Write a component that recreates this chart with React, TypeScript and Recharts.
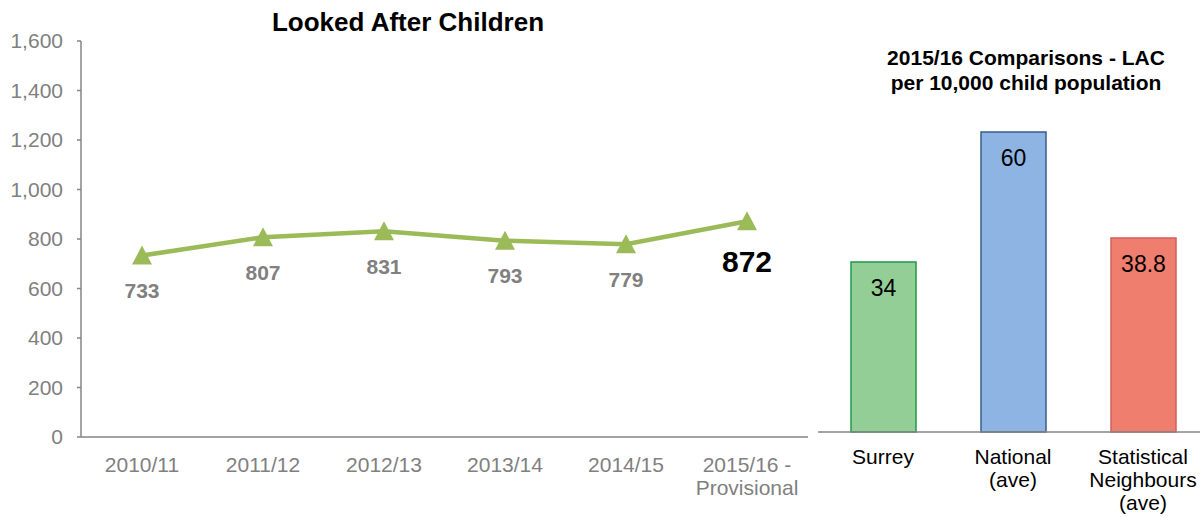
import React from "react";
import { LineChart, Line, BarChart, Bar, Cell, XAxis, YAxis, LabelList } from "recharts";

const years = ["2010/11", "2011/12", "2012/13", "2013/14", "2014/15", "2015/16 - Provisional"];
const lacCounts = [733, 807, 831, 793, 779, 872];
const countTicks = [0, 200, 400, 600, 800, 1000, 1200, 1400, 1600];

const groups = ["Surrey", "National (ave)", "Statistical Neighbours (ave)"];
const ratesPer10k = [34, 60, 38.8];

const FONT = "'Liberation Sans', Arial, sans-serif";
const GREY = "#808080";
const AXIS = "#868686";
const LINE_GREEN = "#9BBB59";
const barFills = ["#92CE96", "#8EB4E3", "#F07E6E"];
const barStrokes = ["#1E9B4A", "#385D8A", "#D0605A"];

const lineData = years.map((year, i) => ({ year, count: lacCounts[i] }));
const barData = groups.map((group, i) => ({ group, rate: ratesPer10k[i] }));

// greedy word wrap, good enough for the short category names here
function wrap(label: string, maxChars = 10): string[] {
  const lines: string[] = [];
  let cur = "";
  for (const w of label.split(" ")) {
    const next = cur ? cur + " " + w : w;
    if (cur && next.length > maxChars) {
      lines.push(cur);
      cur = w;
    } else {
      cur = next;
    }
  }
  if (cur) lines.push(cur);
  return lines;
}

function makeTick(color: string, firstDy: number) {
  return (props: any) => {
    const { x, y, payload } = props;
    const lines = wrap(String(payload.value));
    return (
      <text x={x} y={y} textAnchor="middle" fill={color} fontSize={21} fontFamily={FONT}>
        {lines.map((l, i) => (
          <tspan key={i} x={x} dy={i === 0 ? firstDy : 23}>{l}</tspan>
        ))}
      </text>
    );
  };
}

function Triangle(props: any) {
  const { cx, cy } = props;
  if (cx == null || cy == null) return null;
  return <polygon points={`${cx},${cy - 10} ${cx - 10},${cy + 9} ${cx + 10},${cy + 9}`} fill={LINE_GREEN} />;
}

function PointLabel(props: any) {
  const { x, y, value, index } = props;
  const last = index === lacCounts.length - 1;
  return (
    <text
      x={x}
      y={last ? y + 40 : y + 35}
      textAnchor="middle"
      dominantBaseline="central"
      fontFamily={FONT}
      fontWeight="bold"
      fontSize={last ? 30 : 21}
      fill={last ? "#000" : GREY}
    >
      {value}
    </text>
  );
}

function BarValue(props: any) {
  const { x, y, width, value } = props;
  return (
    <text x={x + width / 2} y={y + 26} textAnchor="middle" dominantBaseline="central" fontFamily={FONT} fontSize={23} fill="#000">
      {value}
    </text>
  );
}

export default function App() {
  return (
    <div style={{ position: "absolute", left: 0, top: 0, width: 1200, height: 517, overflow: "hidden", background: "#fff", fontFamily: FONT }}>
      <div style={{ position: "absolute", left: 208, top: 7, width: 400, textAlign: "center", fontSize: 26, fontWeight: "bold", color: "#000" }}>
        Looked After Children
      </div>
      <div style={{ position: "absolute", left: 826, top: 45, width: 400, textAlign: "center", fontSize: 21, fontWeight: "bold", lineHeight: "25px", color: "#000" }}>
        2015/16 Comparisons - LAC
        <br />
        per 10,000 child population
      </div>

      <div style={{ position: "absolute", left: 0, top: 0 }}>
        <LineChart width={820} height={517} data={lineData} margin={{ top: 41, right: 12, bottom: 0, left: 0 }}>
          <XAxis
            dataKey="year"
            height={80}
            padding={{ left: 61, right: 61 }}
            tickLine={false}
            tickSize={0}
            tickMargin={0}
            axisLine={{ stroke: AXIS, strokeWidth: 1.5 }}
            tick={makeTick(GREY, 35)}
            interval={0}
          />
          <YAxis
            width={81}
            domain={[0, 1600]}
            ticks={countTicks}
            tickFormatter={(v: number) => v.toLocaleString("en-GB")}
            tickSize={4}
            tickMargin={14}
            axisLine={{ stroke: AXIS, strokeWidth: 1.5 }}
            tickLine={{ stroke: AXIS, strokeWidth: 1.5 }}
            tick={{ fill: GREY, fontSize: 21, fontFamily: FONT }}
          />
          <Line
            type="linear"
            dataKey="count"
            stroke={LINE_GREEN}
            strokeWidth={4.5}
            dot={<Triangle />}
            activeDot={false}
            isAnimationActive={false}
          >
            <LabelList dataKey="count" content={<PointLabel />} />
          </Line>
        </LineChart>
      </div>

      <div style={{ position: "absolute", left: 818, top: 0 }}>
        <BarChart width={390} height={517} data={barData} margin={{ top: 82, right: 0, bottom: 0, left: 0 }}>
          <XAxis
            dataKey="group"
            height={85}
            tickLine={false}
            tickSize={0}
            tickMargin={0}
            axisLine={{ stroke: AXIS, strokeWidth: 1.5 }}
            tick={makeTick("#000", 32)}
            interval={0}
          />
          <YAxis hide domain={[0, 70]} />
          <Bar dataKey="rate" barSize={65} strokeWidth={1.5} isAnimationActive={false}>
            {barData.map((_, i) => (
              <Cell key={i} fill={barFills[i]} stroke={barStrokes[i]} />
            ))}
            <LabelList dataKey="rate" content={<BarValue />} />
          </Bar>
        </BarChart>
      </div>
    </div>
  );
}
